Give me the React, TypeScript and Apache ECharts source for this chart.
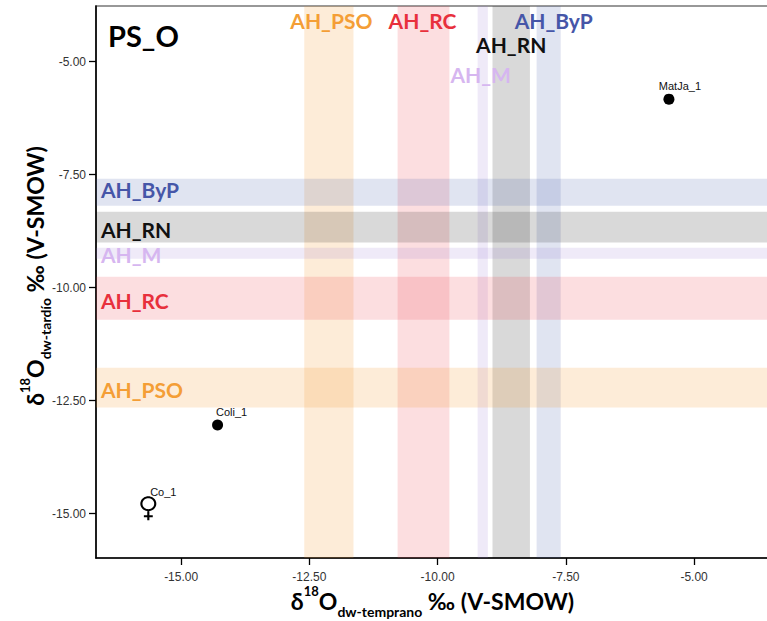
import React, { useEffect, useRef } from 'react';
import * as echarts from 'echarts';

// ---- data ----
const bandNames = ['AH_PSO', 'AH_RC', 'AH_M', 'AH_RN', 'AH_ByP'];
// vertical bands (early-wood, x axis)
const xBandLow = [-12.6, -10.78, -9.22, -8.93, -8.07];
const xBandHigh = [-11.64, -9.77, -9.02, -8.2, -7.6];
// horizontal bands (late-wood, y axis)
const yBandLow = [-12.65, -10.71, -9.36, -9.0, -8.19];
const yBandHigh = [-11.77, -9.76, -9.12, -8.32, -7.59];

const sampleNames = ['MatJa_1', 'Coli_1', 'Co_1'];
const sampleX = [-5.49, -14.29, -15.64];
const sampleY = [-5.83, -13.04, -14.88];

const xTicks = [-15, -12.5, -10, -7.5, -5];
const yTicks = [-15, -12.5, -10, -7.5, -5];

// ---- styles ----
const bandFill = [
  'rgba(245,150,40,0.18)',
  'rgba(240,60,70,0.17)',
  'rgba(150,115,205,0.15)',
  'rgba(0,0,0,0.15)',
  'rgba(60,90,170,0.16)',
];
const bandText = ['#F49E36', '#E8303C', '#D6B6F0', '#111111', '#4656A8'];
const vLabelY = [14, 14, 68, 38, 14];
const vLabelDx = [2.5, -1, -2, 0, 5];
const hLabelDy = [1.5, 2, 1.5, 2, -2.5];
const sampleLabelDx = [11, 14, 15];
const sampleLabelDist = [2, 2, -1];

function ringPath(cx: number, cy: number, r: number, n: number, reverse: boolean) {
  const pts: string[] = [];
  for (let k = 0; k < n; k++) {
    const a = ((reverse ? -k : k) / n) * Math.PI * 2;
    pts.push(`${(cx + r * Math.cos(a)).toFixed(3)},${(cy + r * Math.sin(a)).toFixed(3)}`);
  }
  return 'M' + pts.join('L') + 'Z';
}
const femalePath =
  'path://' +
  ringPath(10, 10, 9, 40, false) +
  ringPath(10, 10, 6.6, 40, true) +
  'M8.8,18.5L11.2,18.5L11.2,30L8.8,30ZM5,23.8L15,23.8L15,26.2L5,26.2Z';

const bandFont = { fontFamily: 'Lato', fontWeight: 'bold' as const, fontSize: 21 };

export default function App() {
  const ref = useRef<HTMLDivElement>(null);
  useEffect(() => {
    if (!ref.current) return;
    const chart = echarts.init(ref.current, undefined, { renderer: 'svg' });

    const areas: any[] = [];
    bandNames.forEach((n, i) => {
      areas.push([
        {
          name: n,
          xAxis: xBandLow[i],
          itemStyle: { color: bandFill[i] },
          label: {
            show: true,
            position: ['50%', vLabelY[i]],
            align: 'center',
            verticalAlign: 'middle',
            offset: [vLabelDx[i], 0],
            color: bandText[i],
            ...bandFont,
          },
        },
        { xAxis: xBandHigh[i] },
      ]);
    });
    bandNames.forEach((n, i) => {
      areas.push([
        {
          name: n,
          yAxis: yBandLow[i],
          itemStyle: { color: bandFill[i] },
          label: {
            show: true,
            position: [5, '50%'],
            align: 'left',
            verticalAlign: 'middle',
            offset: [0, hLabelDy[i]],
            color: bandText[i],
            ...bandFont,
          },
        },
        { yAxis: yBandHigh[i] },
      ]);
    });

    const points = sampleNames.map((n, i) => ({
      name: n,
      value: [sampleX[i], sampleY[i]],
      symbol: n === 'Co_1' ? femalePath : 'circle',
      symbolSize: n === 'Co_1' ? [16, 24] : 11,
      label: {
        show: true,
        formatter: '{b}',
        position: 'top',
        distance: sampleLabelDist[i],
        offset: [sampleLabelDx[i], 0],
        fontFamily: 'Liberation Sans',
        fontSize: 11,
        color: '#111',
      },
    }));

    const main = { fontFamily: 'Lato', fontWeight: 'bold', fontSize: 23, lineHeight: 34, verticalAlign: 'middle', color: '#111' };
    const sup = { fontFamily: 'Lato', fontWeight: 'bold', fontSize: 13, lineHeight: 30, verticalAlign: 'top', color: '#111' };
    const sub = { fontFamily: 'Lato', fontWeight: 'bold', fontSize: 14, lineHeight: 14, verticalAlign: 'bottom', color: '#111' };

    const axisCommon = {
      type: 'value' as const,
      axisLine: { show: true, onZero: false, lineStyle: { color: '#000', width: 1.6 } },
      splitLine: { show: false },
    };

    chart.setOption({
      animation: false,
      backgroundColor: '#fff',
      grid: {
        left: 96,
        top: 6,
        width: 675,
        height: 552,
        show: true,
        borderColor: '#777',
        borderWidth: 1.5,
        backgroundColor: 'transparent',
      },
      xAxis: {
        ...axisCommon,
        min: -16.66,
        max: -3.5,
        axisTick: { show: true, customValues: xTicks, length: 7, lineStyle: { color: '#000', width: 1.3 } },
        axisLabel: {
          customValues: xTicks,
          formatter: (v: number) => v.toFixed(2),
          fontFamily: 'Liberation Sans',
          fontSize: 12,
          color: '#333',
          margin: 13,
        },
      },
      yAxis: {
        ...axisCommon,
        min: -15.98,
        max: -3.77,
        axisTick: { show: true, customValues: yTicks, length: 7, lineStyle: { color: '#000', width: 1.3 } },
        axisLabel: {
          customValues: yTicks,
          formatter: (v: number) => v.toFixed(2),
          fontFamily: 'Liberation Sans',
          fontSize: 12,
          color: '#333',
          margin: 10,
        },
      },
      series: [
        {
          type: 'scatter',
          data: points,
          symbolKeepAspect: false,
          itemStyle: { color: '#000', opacity: 1 },
          z: 5,
          markArea: { silent: true, data: areas },
        },
      ],
      graphic: [
        {
          type: 'text',
          x: 108,
          y: 35,
          style: { text: 'PS_O', fontFamily: 'Lato', fontWeight: 'bold', fontSize: 29, fill: '#000', align: 'left', verticalAlign: 'middle' },
        },
        {
          type: 'text',
          x: 432.5,
          y: 601,
          style: {
            text: '{a|δ}{s|18}{a|O}{b|dw-temprano}{a| ‰ (V-SMOW)}',
            rich: { a: main, s: sup, b: sub },
            align: 'center',
            verticalAlign: 'middle',
          },
        },
        {
          type: 'text',
          x: 35,
          y: 276,
          rotation: Math.PI / 2,
          style: {
            text: '{a|δ}{s|18}{a|O}{b|dw-tardío}{a| ‰ (V-SMOW)}',
            rich: { a: main, s: sup, b: sub },
            align: 'center',
            verticalAlign: 'middle',
          },
        },
      ],
    });
    return () => chart.dispose();
  }, []);
  return (
    <div style={{ position: 'absolute', left: 0, top: 0, width: 767, height: 621, overflow: 'hidden', background: '#fff' }}>
      <div ref={ref} style={{ width: 780, height: 621 }} />
    </div>
  );
}
